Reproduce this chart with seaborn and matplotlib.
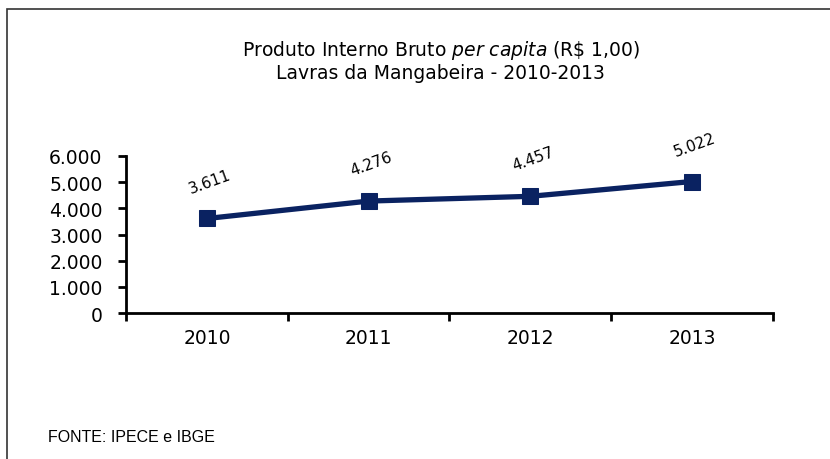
import numpy as np
import pandas as pd
import matplotlib
matplotlib.use("Agg")
import matplotlib.pyplot as plt
from matplotlib.patches import Rectangle
from matplotlib.ticker import FixedLocator, FuncFormatter
import seaborn as sns

# ============================================================
# DADOS
# ============================================================
anos = ["2010", "2011", "2012", "2013"]
pib_per_capita = [3611, 4276, 4457, 5022]
y_ticks = [0, 1000, 2000, 3000, 4000, 5000, 6000]

df = pd.DataFrame({"ano": anos, "valor": pib_per_capita})
df["pos"] = np.arange(len(df))

sns.set_style("white")
plt.rcParams["font.family"] = ["DejaVu Sans"]
plt.rcParams["text.color"] = "black"
plt.rcParams["mathtext.fontset"] = "dejavusans"


def fmt_milhar(v):
    return f"{int(v):,}".replace(",", ".")


fig = plt.figure(figsize=(8.3, 4.6), dpi=100)
ax = fig.add_axes([0.152, 0.317, 0.779, 0.342])

cor = "#0A2261"
sns.lineplot(data=df, x="pos", y="valor", ax=ax, color=cor, linewidth=3.8,
             marker="s", markersize=12, markeredgecolor=cor, markerfacecolor=cor)

# rótulos de dados (rotacionados)
for p, v in zip(df["pos"], df["valor"]):
    ax.annotate(fmt_milhar(v), (p, v), xytext=(2, 27), textcoords="offset points",
                ha="center", va="center", rotation=20, fontsize=11, color="black")

# eixos
ax.set_xlim(-0.5, len(anos) - 0.5)
ax.set_ylim(0, 6000)
ax.set_xticks(df["pos"])
ax.set_xticklabels(anos, fontsize=13.5)
ax.xaxis.set_minor_locator(FixedLocator(np.arange(-0.5, len(anos), 1.0)))
ax.tick_params(axis="x", which="major", bottom=False, length=0, pad=11, labelcolor="black")
ax.tick_params(axis="x", which="minor", bottom=True, length=6, width=2,
               direction="out", color="black")
ax.set_yticks(y_ticks)
ax.yaxis.set_major_formatter(FuncFormatter(lambda v, _: fmt_milhar(v)))
ax.tick_params(axis="y", left=True, length=6, width=2, direction="out", color="black",
               labelsize=13.5, pad=11, labelcolor="black")
ax.set_xlabel("")
ax.set_ylabel("")

for s in ["top", "right"]:
    ax.spines[s].set_visible(False)
for s in ["left", "bottom"]:
    ax.spines[s].set_color("black")
    ax.spines[s].set_linewidth(2)

# título
fig.text(0.531, 0.89, r"Produto Interno Bruto $\it{per\ capita}$ (R\$ 1,00)",
         ha="center", va="center", fontsize=13.5)
fig.text(0.531, 0.84, "Lavras da Mangabeira - 2010-2013",
         ha="center", va="center", fontsize=13.5)

# fonte
fig.text(0.058, 0.048, "FONTE: IPECE e IBGE", ha="left", va="center",
         fontsize=11.5, family="Liberation Sans")

# moldura
fig.patches.append(Rectangle((0.008, -0.1), 1.2, 1.078, transform=fig.transFigure,
                             fill=False, edgecolor="#333333", linewidth=1.2))

fig.savefig("out.png", dpi=100)
